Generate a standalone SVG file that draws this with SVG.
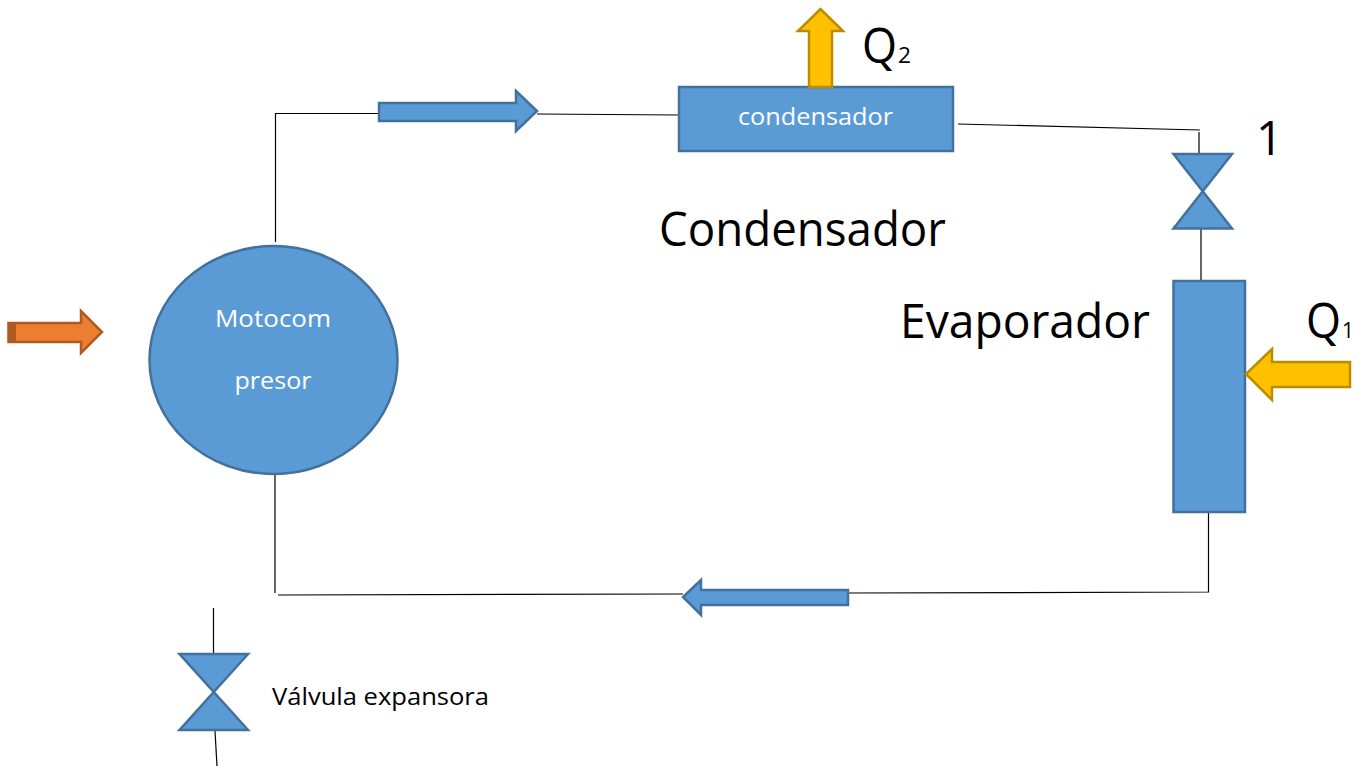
<svg xmlns="http://www.w3.org/2000/svg" width="1355" height="766" viewBox="0 0 1355 766">
<style>
.blue{fill:#5b9bd5;stroke:#41719c;stroke-width:2.5}
.gold{fill:#ffc000;stroke:#bc8c00;stroke-width:2.5}
.orange{fill:#ed7d31;stroke:#ae5a21;stroke-width:2.5}
.line{fill:none;stroke:#000;stroke-width:1.2}
text{font-family:"Open Sans","Noto Sans","Liberation Sans",sans-serif}
.w{fill:#fff;font-size:24px}
.k{fill:#000}
</style>
<rect width="1355" height="766" fill="#fff"/>
<g id="connectors">
<path class="line" d="M275.500 242V113.500H379"/>
<path class="line" d="M537 114L679 115"/>
<path class="line" d="M958 124L1200 130"/>
<path class="line" d="M1199 132V155"/>
<path class="line" d="M1201 228V281"/>
<path class="line" d="M1208.500 512V592L848 593"/>
<path class="line" d="M683 594L278 595"/>
<path class="line" d="M275 475V593"/>
<path class="line" d="M213.500 608V655"/>
<path class="line" d="M215 731L217 766"/>
</g>
<g id="flow-top"><polygon class="blue" points="379,103 516,103 516,91 537,111 516,131 516,121 379,121"/></g>
<g id="flow-bottom"><polygon class="blue" points="848,590 701,590 701,580 683,597 701,615 701,605 848,605"/></g>
<g id="work-in"><polygon class="orange" points="8.500,323 81,323 81,311 102,332 81,353 81,342 8.500,342"/><rect x="8" y="323" width="8" height="20" fill="#ae5a21"/></g>
<g id="motocompresor">
<ellipse class="blue" cx="273.500" cy="360" rx="124" ry="114"/>
<text class="w" x="273" y="327" text-anchor="middle" textLength="116" lengthAdjust="spacingAndGlyphs">Motocom</text>
<text class="w" x="273" y="389" text-anchor="middle" textLength="77" lengthAdjust="spacingAndGlyphs">presor</text>
</g>
<g id="condensador">
<rect class="blue" x="679" y="87" width="274" height="64"/>
<text class="w" x="815.500" y="125" text-anchor="middle" textLength="155" lengthAdjust="spacingAndGlyphs">condensador</text>
</g>
<g id="q2-arrow"><polygon class="gold" points="809,87 809,31 798,31 820.500,9 843,31 832,31 832,87"/></g>
<g id="q2-label"><text class="k" x="862" y="63" font-size="49" textLength="35" lengthAdjust="spacingAndGlyphs">Q</text><text class="k" x="898" y="63" font-size="22" textLength="13" lengthAdjust="spacingAndGlyphs">2</text></g>
<g id="condensador-label"><text class="k" x="659" y="246" font-size="47" textLength="287" lengthAdjust="spacingAndGlyphs">Condensador</text></g>
<g id="valve-1"><polygon class="blue" points="1173.500,154 1232,154 1173.500,228.500 1232,228.500"/></g>
<g id="label-1"><text class="k" x="1256" y="155" font-size="48" textLength="27" lengthAdjust="spacingAndGlyphs">1</text></g>
<g id="evaporador">
<rect class="blue" x="1173.500" y="281" width="71.500" height="231"/>
</g>
<g id="evaporador-label"><text class="k" x="900" y="338" font-size="47" textLength="250" lengthAdjust="spacingAndGlyphs">Evaporador</text></g>
<g id="q1-arrow"><polygon class="gold" points="1350,362 1272,362 1272,349 1246,374 1272,400 1272,387 1350,387"/></g>
<g id="q1-label"><text class="k" x="1306" y="338" font-size="49" textLength="35" lengthAdjust="spacingAndGlyphs">Q</text><text class="k" x="1342" y="338" font-size="22" textLength="12" lengthAdjust="spacingAndGlyphs">1</text></g>
<g id="valve-legend"><polygon class="blue" points="179.500,654 248,654 179.500,730 248,730"/></g>
<g id="valve-label"><text class="k" x="272" y="705" font-size="24" textLength="217" lengthAdjust="spacingAndGlyphs">Válvula expansora</text></g>
</svg>
